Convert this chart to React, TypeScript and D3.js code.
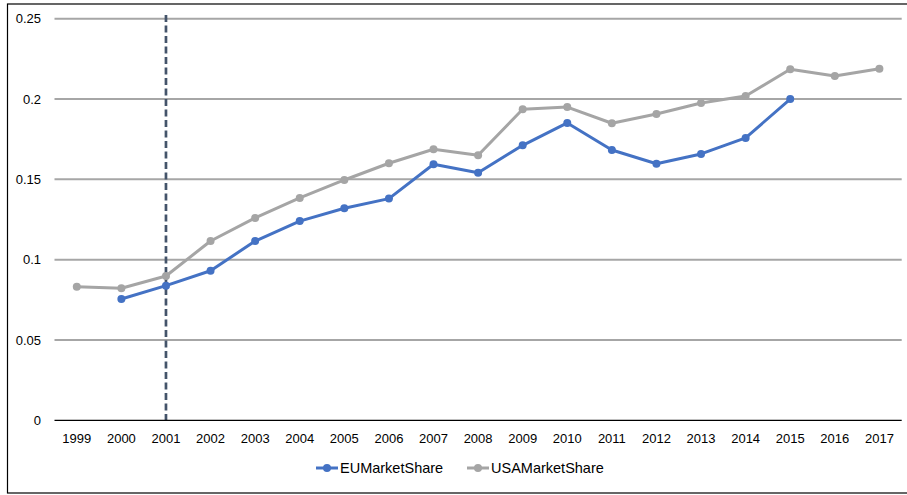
import React from "react";
import * as d3 from "d3";

const years = ["1999","2000","2001","2002","2003","2004","2005","2006","2007","2008","2009","2010","2011","2012","2013","2014","2015","2016","2017"];
const euShare: (number | null)[] = [null,0.0755,0.0838,0.0931,0.1116,0.124,0.132,0.138,0.1594,0.1541,0.1712,0.1851,0.1683,0.1597,0.1658,0.1758,0.2,null,null];
const usaShare: (number | null)[] = [0.0832,0.0822,0.0898,0.1116,0.126,0.1384,0.1496,0.16,0.1687,0.165,0.1936,0.195,0.1849,0.1907,0.1975,0.2019,0.2185,0.2143,0.2189];
const yTicks = [0, 0.05, 0.1, 0.15, 0.2, 0.25];
const markerYear = "2001";
const seriesNames = ["EUMarketShare", "USAMarketShare"];
const seriesColors = ["#4472C4", "#A5A5A5"];

const W = 907, H = 495;
const left = 54.5, right = 901.7, top = 18.7, bottom = 420.3;
const font = "'Liberation Sans', Arial, sans-serif";

export default function App() {
  const x = d3.scaleBand<string>().domain(years).range([left, right]).padding(0);
  const cx = (yr: string) => (x(yr) as number) + x.bandwidth() / 2;
  const y = d3.scaleLinear().domain([0, 0.25]).range([bottom, top]);

  const series = [euShare, usaShare];
  const line = d3
    .line<[string, number | null]>()
    .defined((d) => d[1] !== null)
    .x((d) => cx(d[0]))
    .y((d) => y(d[1] as number));

  return (
    <svg width={W} height={H} style={{ position: "absolute", left: 0, top: 0, display: "block" }}>
      <rect x={0} y={0} width={W} height={H} fill="#fff" />
      <rect x={7.5} y={4} width={W + 10} height={489} fill="none" stroke="#000" strokeWidth={1.2} />
      {yTicks.map((t) => (
        <g key={t}>
          {t !== 0 && (
            <line x1={left} x2={right} y1={y(t)} y2={y(t)} stroke="#A6A6A6" strokeWidth={2} />
          )}
          <text x={41} y={y(t)} dy="0.35em" textAnchor="end" fontSize={13} fontFamily={font} fill="#000">
            {String(t)}
          </text>
        </g>
      ))}
      {years.map((yr) => (
        <text key={yr} x={cx(yr)} y={443} textAnchor="middle" fontSize={13} fontFamily={font} fill="#000">
          {yr}
        </text>
      ))}
      <line
        x1={cx(markerYear)}
        x2={cx(markerYear)}
        y1={15}
        y2={bottom}
        stroke="#44546A"
        strokeWidth={2.7}
        strokeDasharray="7,3.5"
      />
      {series.map((vals, i) => {
        const pts = years.map((yr, j) => [yr, vals[j]] as [string, number | null]);
        return (
          <g key={i}>
            <path d={line(pts) || ""} fill="none" stroke={seriesColors[i]} strokeWidth={3} strokeLinejoin="round" />
            {pts
              .filter((p) => p[1] !== null)
              .map((p) => (
                <circle key={p[0]} cx={cx(p[0])} cy={y(p[1] as number)} r={4} fill={seriesColors[i]} />
              ))}
          </g>
        );
      })}
      <line x1={left} x2={right} y1={bottom} y2={bottom} stroke="#000" strokeWidth={1.3} />
      {seriesNames.map((name, i) => {
        const lx = i === 0 ? 316 : 467;
        return (
          <g key={name}>
            <line x1={lx} x2={lx + 22} y1={468} y2={468} stroke={seriesColors[i]} strokeWidth={3} />
            <circle cx={lx + 11} cy={468} r={4} fill={seriesColors[i]} />
            <text x={lx + 24} y={468} dy="0.35em" fontSize={14.5} fontFamily={font} fill="#000">
              {name}
            </text>
          </g>
        );
      })}
    </svg>
  );
}
